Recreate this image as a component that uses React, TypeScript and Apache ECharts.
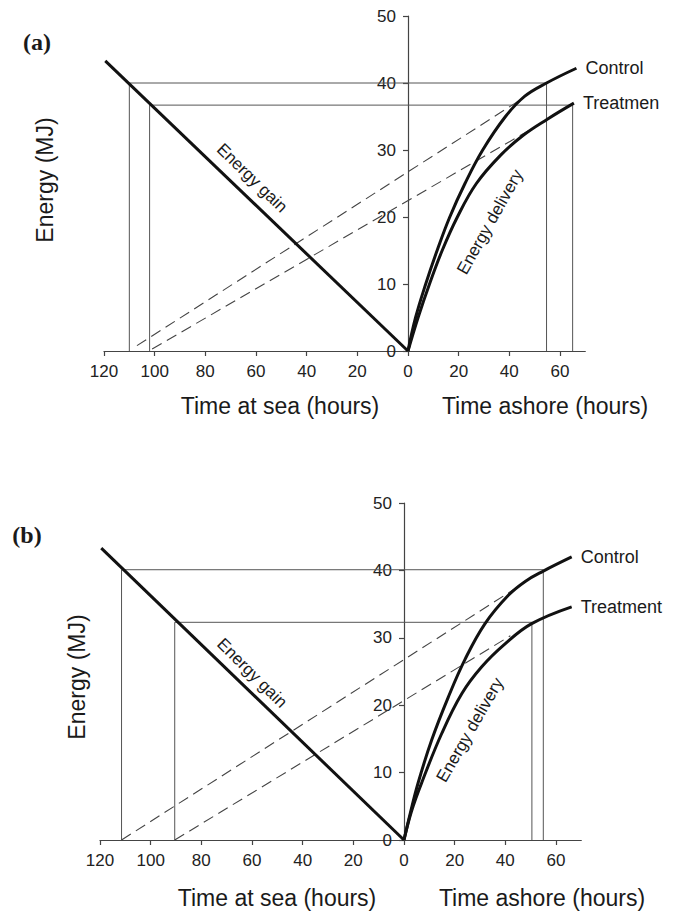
import React, { useEffect, useRef } from "react";
import * as echarts from "echarts";

const FONT = '"Liberation Sans", Arial, Helvetica, sans-serif';
const INK = "#111";
const GUIDE = "#555";

// Axis ticks (negative = time at sea, positive = time ashore)
const xTicks = [-120, -100, -80, -60, -40, -20, 0, 20, 40, 60];
const X_MIN = -120;
const X_MAX = 70;

// ---- Panel (a) ----
const gainA = [[-119.5, 43.3], [0, 0]];
const controlA = [[0, 0], [3, 5], [7, 10], [11.5, 15], [16.5, 20], [22.5, 25], [29.5, 30], [38.5, 35], [46, 38], [54.7, 40], [66.5, 42.2]];
const treatmentA = [[0, 0], [4, 5], [8.5, 10], [13.5, 15], [19.5, 20], [27, 25], [36.5, 29.2], [45.5, 32.2], [55, 34.6], [65.5, 37]];
const tangentControlA = [[-107, 0.8], [44, 37.4]];
const tangentTreatmentA = [[-101, 0.3], [54, 34.3]];
const guideControlA = [[-110, 0], [-110, 40], [54.7, 40], [54.7, 0]];
const guideTreatmentA = [[-102, 0], [-102, 36.7], [65, 36.7], [65, 0]];

// ---- Panel (b) ----
const gainB = [[-119.5, 43.3], [0, 0]];
const controlB = [[0, 0], [2.5, 4], [5.6, 8.5], [10.9, 14.8], [17.5, 21.2], [24.1, 26.8], [32, 32.1], [41.2, 36.3], [48, 38.4], [55, 39.9], [66.2, 42]];
const treatmentB = [[0, 0], [3, 4.3], [7, 8.5], [14.9, 15.8], [22.8, 21.7], [30.7, 25.7], [39.9, 29.1], [50.4, 32.1], [66.2, 34.6]];
const tangentControlB = [[-111.5, 0], [44.7, 37.5]];
const tangentTreatmentB = [[-90.5, 0], [42, 30.3]];
const guideControlB = [[-111.5, 0], [-111.5, 40.1], [55, 40.1], [55, 0]];
const guideTreatmentB = [[-90.5, 0], [-90.5, 32.3], [50.5, 32.3], [50.5, 0]];

const controlNameA = "Control";
const treatmentNameA = "Treatmen";
const controlNameB = "Control";
const treatmentNameB = "Treatment";

const GRID_W = 481.3;

function xAxisFor(gridIndex: number) {
  return {
    gridIndex,
    type: "value",
    min: X_MIN,
    max: X_MAX,
    interval: 20,
    axisLine: { show: true, onZero: false, lineStyle: { color: "#444", width: 1.2 } },
    axisTick: { show: true, customValues: xTicks, length: 5, lineStyle: { color: "#444", width: 1.2 } },
    axisLabel: {
      customValues: xTicks,
      formatter: (v: number) => String(Math.abs(v)),
      fontSize: 17,
      color: "#222",
      fontFamily: FONT,
      margin: 12,
    },
    splitLine: { show: false },
  };
}

function yAxisFor(gridIndex: number) {
  // place the vertical axis at x = 0 (shift right from the grid's left edge)
  const offset = -GRID_W * (0 - X_MIN) / (X_MAX - X_MIN);
  return {
    gridIndex,
    type: "value",
    position: "left",
    offset,
    min: 0,
    max: 50,
    interval: 10,
    axisLine: { show: true, onZero: false, lineStyle: { color: "#444", width: 1.2 } },
    axisTick: { show: true, length: 5, lineStyle: { color: "#444", width: 1.2 } },
    axisLabel: { fontSize: 17, color: "#222", fontFamily: FONT, margin: 12 },
    splitLine: { show: false },
  };
}

function panelSeries(
  idx: number,
  gain: number[][],
  control: number[][],
  treatment: number[][],
  tanC: number[][],
  tanT: number[][],
  guideC: number[][],
  guideT: number[][],
  cName: string,
  tName: string
) {
  const base = { type: "line", xAxisIndex: idx, yAxisIndex: idx, symbol: "none", silent: true };
  const endLabel = (text: string) => ({
    show: true,
    formatter: text,
    distance: 9,
    fontSize: 18,
    color: "#1a1a1a",
    fontFamily: FONT,
  });
  return [
    { ...base, data: guideC, lineStyle: { color: GUIDE, width: 1 }, z: 1 },
    { ...base, data: guideT, lineStyle: { color: GUIDE, width: 1 }, z: 1 },
    { ...base, data: tanC, lineStyle: { color: "#444", width: 1.1, type: [11, 6] }, z: 2 },
    { ...base, data: tanT, lineStyle: { color: "#444", width: 1.1, type: [11, 6] }, z: 2 },
    { ...base, data: gain, lineStyle: { color: INK, width: 3 }, z: 3 },
    { ...base, data: control, smooth: 0.4, lineStyle: { color: INK, width: 3 }, z: 3, endLabel: endLabel(cName) },
    { ...base, data: treatment, smooth: 0.4, lineStyle: { color: INK, width: 3 }, z: 3, endLabel: endLabel(tName) },
  ];
}

function txt(text: string, x: number, y: number, size: number, rotation = 0, extra: any = {}) {
  return {
    type: "text",
    x,
    y,
    rotation,
    silent: true,
    style: {
      text,
      fontSize: size,
      fontFamily: FONT,
      fill: "#1a1a1a",
      align: "center",
      verticalAlign: "middle",
      ...extra,
    },
  };
}

export default function App() {
  const ref = useRef<HTMLDivElement>(null);
  useEffect(() => {
    if (!ref.current) return;
    const chart = echarts.init(ref.current, null, { renderer: "svg" });
    const option: any = {
      animation: false,
      backgroundColor: "#fff",
      grid: [
        { left: 104, top: 16, width: GRID_W, height: 335 },
        { left: 100, top: 503, width: GRID_W, height: 337 },
      ],
      xAxis: [xAxisFor(0), xAxisFor(1)],
      yAxis: [yAxisFor(0), yAxisFor(1)],
      series: [
        ...panelSeries(0, gainA, controlA, treatmentA, tangentControlA, tangentTreatmentA, guideControlA, guideTreatmentA, controlNameA, treatmentNameA),
        ...panelSeries(1, gainB, controlB, treatmentB, tangentControlB, tangentTreatmentB, guideControlB, guideTreatmentB, controlNameB, treatmentNameB),
      ],
      graphic: [
        txt("(a)", 37, 42, 24, 0, { fontFamily: '"Liberation Serif", "Times New Roman", serif', fontWeight: "bold" }),
        txt("(b)", 27, 535, 24, 0, { fontFamily: '"Liberation Serif", "Times New Roman", serif', fontWeight: "bold" }),
        txt("Energy (MJ)", 45, 180, 23, Math.PI / 2),
        txt("Energy (MJ)", 77, 677, 23, Math.PI / 2),
        txt("Time at sea (hours)", 280, 406, 23),
        txt("Time ashore (hours)", 545, 406, 23),
        txt("Time at sea (hours)", 277, 898, 23),
        txt("Time ashore (hours)", 542, 898, 23),
        txt("Energy gain", 252, 178, 17, -0.77),
        txt("Energy gain", 252, 673, 17, -0.78),
        txt("Energy delivery", 490, 222, 17, 1.06),
        txt("Energy delivery", 470, 730, 17, 1.05),
      ],
    };
    chart.setOption(option);
    return () => chart.dispose();
  }, []);
  return (
    <div
      ref={ref}
      style={{ position: "absolute", left: 0, top: 0, width: 675, height: 916, background: "#fff" }}
    />
  );
}
